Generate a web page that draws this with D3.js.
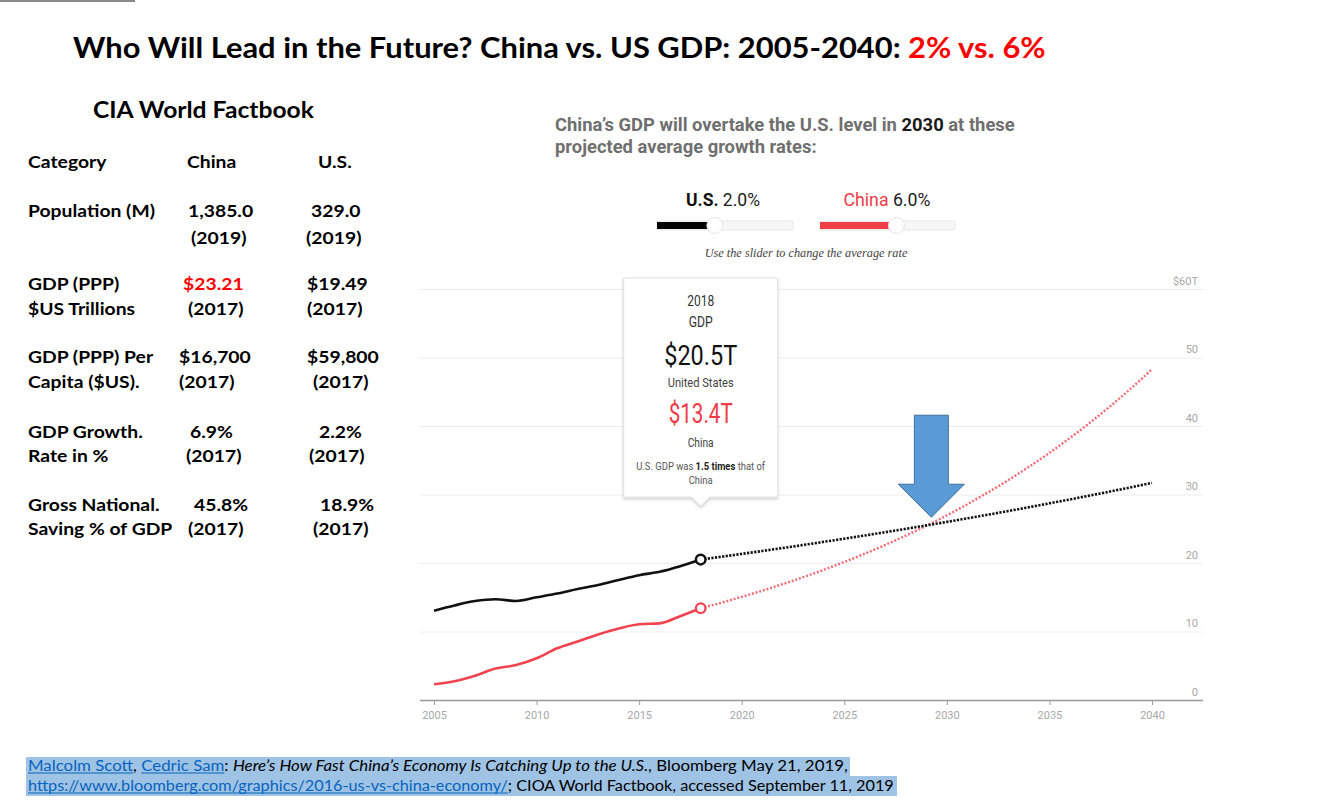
<!DOCTYPE html>
<html>
<head>
<meta charset="utf-8">
<script src="https://cdn.jsdelivr.net/npm/d3@7"></script>
<style>
  html, body { margin: 0; padding: 0; background: #fff; }
  svg { display: block; }
  text { white-space: pre; }
</style>
</head>
<body>
<script>
// ---------------- DATA ----------------
const histYears   = [2005,2006,2007,2008,2009,2010,2011,2012,2013,2014,2015,2016,2017,2018];
const usHist      = [13.04,13.81,14.45,14.71,14.45,14.99,15.54,16.20,16.78,17.52,18.22,18.71,19.52,20.50];
const chinaHist   = [2.29,2.75,3.55,4.59,5.10,6.09,7.55,8.53,9.57,10.44,11.06,11.19,12.24,13.40];

const projYears   = [2018,2019,2020,2021,2022,2023,2024,2025,2026,2027,2028,2029,2030,2031,2032,2033,2034,2035,2036,2037,2038,2039,2040];
const usProj      = [20.50,20.91,21.33,21.75,22.19,22.63,23.09,23.55,24.02,24.50,24.99,25.49,26.00,26.52,27.05,27.59,28.14,28.71,29.28,29.87,30.46,31.07,31.69];
const chinaProj   = [13.40,14.20,15.06,15.96,16.92,17.93,19.01,20.15,21.36,22.64,24.00,25.44,26.96,28.58,30.30,32.11,34.04,36.08,38.25,40.54,42.98,45.55,48.29];

const xTickYears  = [2005,2010,2015,2020,2025,2030,2035,2040];
const yTickValues = [0,10,20,30,40,50,60];
const yTickLabels = ["0","10","20","30","40","50","$60T"];

const titleParts  = ["Who Will Lead in the Future? China vs. US GDP: 2005-2040: ", "2% vs. 6%"];
const tableTitle  = "CIA World Factbook";
const tableHeader = ["Category","China","U.S."];
const tableLabels = [["Population (M)",""],["GDP (PPP)","$US Trillions"],["GDP (PPP) Per","Capita ($US)."],["GDP Growth.","Rate in %"],["Gross National.","Saving % of GDP"]];
const tableChina  = [["1,385.0","(2019)"],["$23.21","(2017)"],["$16,700","(2017)"],["6.9%","(2017)"],["45.8%","(2017)"]];
const tableUS     = [["329.0","(2019)"],["$19.49","(2017)"],["$59,800","(2017)"],["2.2%","(2017)"],["18.9%","(2017)"]];

const rateUS = 2.0, rateChina = 6.0;
const tipYear = 2018, tipUS = "$20.5T", tipChina = "$13.4T", tipRatio = "1.5";

// ---------------- LAYOUT ----------------
const W = 1341, H = 802;
const svg = d3.select("body").append("svg").attr("width", W).attr("height", H);
const CAL = "Lato, 'Open Sans', sans-serif";
const NARROW = "'Liberation Sans Narrow', Roboto, 'Liberation Sans', sans-serif";

function txt(parent, x, y, parts, o = {}) {
  const g = parent.append("g").attr("transform", `translate(${x},${y})`);
  const t = g.append("text")
    .attr("text-anchor", o.anchor || "start")
    .attr("font-family", o.font || CAL)
    .attr("font-size", o.size || 14)
    .attr("font-weight", o.weight || "normal")
    .attr("font-style", o.style || "normal")
    .attr("fill", o.fill || "#000");
  if (typeof parts === "string") parts = [{t: parts}];
  const spans = parts.map(p => {
    const s = t.append("tspan").text(p.t);
    if (p.fill) s.attr("fill", p.fill);
    if (p.weight) s.attr("font-weight", p.weight);
    if (p.style) s.attr("font-style", p.style);
    return {s, p};
  });
  let k = o.scale || 1;
  if (o.width) k = o.width / t.node().getComputedTextLength();
  t.attr("transform", `scale(${k},1)`);
  spans.forEach(({s, p}) => {
    if (p.u) {
      const n = s.node();
      const x0 = n.getStartPositionOfChar(0).x;
      const len = n.getComputedTextLength();
      g.append("line").attr("x1", x0 * k).attr("x2", (x0 + len) * k)
        .attr("y1", 2).attr("y2", 2).attr("stroke", p.fill || "#000").attr("stroke-width", 1);
    }
  });
  return {g, t, k};
}

// top-left thin bar
svg.append("rect").attr("x", 0).attr("y", 0).attr("width", 135).attr("height", 2).attr("fill", "#8a8a8a");

// ---------------- TITLE ----------------
txt(svg, 73, 58, [{t: titleParts[0]}, {t: titleParts[1], fill: "#ff0000"}],
    {size: 29, weight: "bold", width: 973});

// ---------------- TABLE ----------------
txt(svg, 93, 118, tableTitle, {size: 22, weight: "bold", width: 221});
const tk = (() => {
  const probe = svg.append("text").attr("font-family", CAL).attr("font-size", 16.5).attr("font-weight", "bold").text(tableLabels[0][0]);
  const w = probe.node().getComputedTextLength(); probe.remove(); return 127 / w;
})();
const tOpt = {size: 16.5, weight: "bold", scale: tk};
const headerX = [28, 187, 318];
tableHeader.forEach((h, i) => txt(svg, headerX[i], 168, h, tOpt));
const rowY = [[217, 244], [290, 315], [363, 388], [438, 462], [511, 535]];
const chinaX = [[188, 191], [183, 188], [179, 179], [190, 186], [194, 188]];
const usX = [[311, 306], [307, 307], [307, 313], [319, 309], [320, 313]];
tableLabels.forEach((lab, r) => {
  lab.forEach((s, j) => { if (s) txt(svg, 28, rowY[r][j], s, tOpt); });
  tableChina[r].forEach((s, j) => txt(svg, chinaX[r][j], rowY[r][j], s,
      Object.assign({}, tOpt, {fill: (r === 1 && j === 0) ? "#ff0000" : "#000"})));
  tableUS[r].forEach((s, j) => txt(svg, usX[r][j], rowY[r][j], s, tOpt));
});

// ---------------- BLOOMBERG HEADER ----------------
const hd = txt(svg, 555, 131, [{t: "China’s GDP will overtake the U.S. level in "}, {t: "2030", fill: "#1a1a1a"}, {t: " at these"}],
    {font: NARROW, size: 18, weight: "bold", fill: "#6f6f6f", width: 460});
txt(svg, 555, 153, "projected average growth rates:", {font: NARROW, size: 18, weight: "bold", fill: "#6f6f6f", scale: hd.k});

// slider labels
txt(svg, 723, 206, [{t: "U.S.", weight: "bold", fill: "#111"}, {t: " " + rateUS.toFixed(1) + "%"}],
    {font: NARROW, size: 19, fill: "#222", anchor: "middle", width: 74});
txt(svg, 887, 206, [{t: "China", fill: "#ee3b48"}, {t: " " + rateChina.toFixed(1) + "%"}],
    {font: NARROW, size: 19, fill: "#222", anchor: "middle", width: 87});

// sliders: knob position from rate via a scale
function slider(x0, x1, rate, maxRate, color) {
  const s = d3.scaleLinear().domain([0, maxRate]).range([x0, x1]);
  const knobX = s(rate);
  svg.append("rect").attr("x", x0).attr("y", 221).attr("width", x1 - x0).attr("height", 9)
    .attr("rx", 2).attr("fill", "#f7f7f7").attr("stroke", "#e6e6e6");
  svg.append("rect").attr("x", x0).attr("y", 222).attr("width", knobX - x0 - 6).attr("height", 7).attr("fill", color);
  svg.append("circle").attr("cx", knobX).attr("cy", 225.5).attr("r", 8).attr("fill", "#fff").attr("stroke", "#e4e4e4");
}
slider(657, 793, rateUS, 4.7, "#000");
slider(820, 955, rateChina, 10.6, "#ef3e46");
txt(svg, 806, 257, "Use the slider to change the average rate",
    {font: "'Liberation Serif', 'DejaVu Serif', serif", size: 13, style: "italic", fill: "#444", anchor: "middle", width: 203});

// ---------------- CHART ----------------
const x = d3.scaleLinear().domain([2005, 2040]).range([434, 1152]);
const y = d3.scaleLinear().domain([0, 60]).range([700, 289]);
const gridL = 420, gridR = 1203;

const defs = svg.append("defs");
const f = defs.append("filter").attr("id", "sh").attr("x", "-20%").attr("y", "-20%").attr("width", "140%").attr("height", "140%");
f.append("feDropShadow").attr("dx", 0).attr("dy", 1.5).attr("stdDeviation", 1.5).attr("flood-color", "#000").attr("flood-opacity", 0.22);

// y axis (gridlines)
const yAxis = svg.append("g").attr("transform", `translate(${gridR},0)`)
  .call(d3.axisRight(y).tickValues(yTickValues).tickSize(-(gridR - gridL))
    .tickFormat((d, i) => yTickLabels[i]));
yAxis.select(".domain").remove();
yAxis.selectAll(".tick line").attr("stroke", d => d === 0 ? "#9a9a9a" : "#ececec").attr("stroke-width", d => d === 0 ? 1.5 : 1);
yAxis.selectAll(".tick text").attr("x", -5).attr("dy", -5).attr("text-anchor", "end")
  .attr("font-family", NARROW).attr("font-size", 11).attr("fill", "#a8a8a8");

// x axis
const xAxis = svg.append("g").attr("transform", `translate(0,${y(0)})`)
  .call(d3.axisBottom(x).tickValues(xTickYears).tickSize(5).tickPadding(6).tickFormat(d3.format("d")));
xAxis.select(".domain").remove();
xAxis.selectAll(".tick line").attr("stroke", "#9a9a9a");
xAxis.selectAll(".tick text").attr("font-family", NARROW).attr("font-size", 11).attr("fill", "#a8a8a8");

// lines
const hist = histYears.map((yr, i) => ({yr, us: usHist[i], cn: chinaHist[i]}));
const proj = projYears.map((yr, i) => ({yr, us: usProj[i], cn: chinaProj[i]}));
const lineOf = key => d3.line().x(d => x(d.yr)).y(d => y(d[key])).curve(d3.curveMonotoneX);

svg.append("path").datum(proj).attr("d", lineOf("cn")).attr("fill", "none")
  .attr("stroke", "#f0505c").attr("stroke-width", 2.4).attr("stroke-dasharray", "2,1.8").attr("opacity", 0.85);
svg.append("path").datum(proj).attr("d", lineOf("us")).attr("fill", "none")
  .attr("stroke", "#111").attr("stroke-width", 2.6).attr("stroke-dasharray", "2.2,1.4");
svg.append("path").datum(hist).attr("d", lineOf("cn")).attr("fill", "none")
  .attr("stroke", "#f0434f").attr("stroke-width", 2.6);
svg.append("path").datum(hist).attr("d", lineOf("us")).attr("fill", "none")
  .attr("stroke", "#111").attr("stroke-width", 2.6);

const last = hist[hist.length - 1];
svg.append("circle").attr("cx", x(last.yr)).attr("cy", y(last.us)).attr("r", 4.8)
  .attr("fill", "#fff").attr("stroke", "#111").attr("stroke-width", 2.5);
svg.append("circle").attr("cx", x(last.yr)).attr("cy", y(last.cn)).attr("r", 4.8)
  .attr("fill", "#fff").attr("stroke", "#f0434f").attr("stroke-width", 2.2);

// tooltip
const tx = x(tipYear);
const tip = svg.append("g");
tip.append("path")
  .attr("d", `M${tx - 77},278 H${tx + 77} V497 H${tx + 9} L${tx},506 L${tx - 9},497 H${tx - 77} Z`)
  .attr("fill", "#fff").attr("stroke", "#e3e3e3").attr("filter", "url(#sh)");
txt(tip, tx, 306, String(tipYear), {font: NARROW, size: 15, fill: "#333", anchor: "middle", width: 27});
txt(tip, tx, 327, "GDP", {font: NARROW, size: 15, fill: "#333", anchor: "middle", width: 24});
txt(tip, tx, 365, tipUS, {font: NARROW, size: 28, fill: "#111", anchor: "middle", width: 73});
txt(tip, tx, 387, "United States", {font: NARROW, size: 13, fill: "#444", anchor: "middle", width: 66});
txt(tip, tx, 423, tipChina, {font: NARROW, size: 28, fill: "#ee3b48", anchor: "middle", width: 64});
txt(tip, tx, 447, "China", {font: NARROW, size: 13, fill: "#444", anchor: "middle", width: 26});
txt(tip, tx, 470, [{t: "U.S. GDP was "}, {t: tipRatio + " times", weight: "bold", fill: "#222"}, {t: " that of"}],
    {font: NARROW, size: 10, fill: "#555", anchor: "middle", width: 129});
txt(tip, tx, 484, "China", {font: NARROW, size: 10, fill: "#555", anchor: "middle", width: 24});

// crossing point -> arrow annotation
let cross = null;
for (let i = 1; i < proj.length; i++) {
  const a = proj[i - 1], b = proj[i];
  if ((a.cn - a.us) < 0 && (b.cn - b.us) >= 0) {
    const t = (a.us - a.cn) / ((b.cn - b.us) - (a.cn - a.us));
    cross = {yr: a.yr + t, v: a.us + t * (b.us - a.us)};
  }
}
const ax = x(cross.yr) + 4, ay = y(cross.v) - 8;
svg.append("path")
  .attr("d", `M${ax - 17},${ay - 102} H${ax + 17} V${ay - 33} H${ax + 33} L${ax},${ay} L${ax - 33},${ay - 33} H${ax - 17} Z`)
  .attr("fill", "#5b9bd5").attr("stroke", "#41719c").attr("stroke-width", 1);

// ---------------- FOOTER ----------------
const LINK = "#0563c1";
const foot1 = [{t: "Malcolm Scott", fill: LINK, u: 1}, {t: ", "}, {t: "Cedric Sam", fill: LINK, u: 1}, {t: ": "},
  {t: "Here’s How Fast China’s Economy Is Catching Up to the U.S.", style: "italic"}, {t: ", Bloomberg May 21, 2019,"}];
const foot2 = [{t: "https://www.bloomberg.com/graphics/2016-us-vs-china-economy/", fill: LINK, u: 1},
  {t: "; CIOA World Factbook, accessed September 11, 2019"}];
const hl = svg.append("g");
hl.append("rect").attr("x", 26).attr("y", 757).attr("width", 824).attr("height", 19).attr("fill", "#9fc3e4");
hl.append("rect").attr("x", 26).attr("y", 776).attr("width", 871).attr("height", 20).attr("fill", "#9fc3e4");
txt(svg, 28, 771, foot1, {size: 15, width: 820});
txt(svg, 28, 791, foot2, {size: 15, width: 867});
</script>
</body>
</html>
